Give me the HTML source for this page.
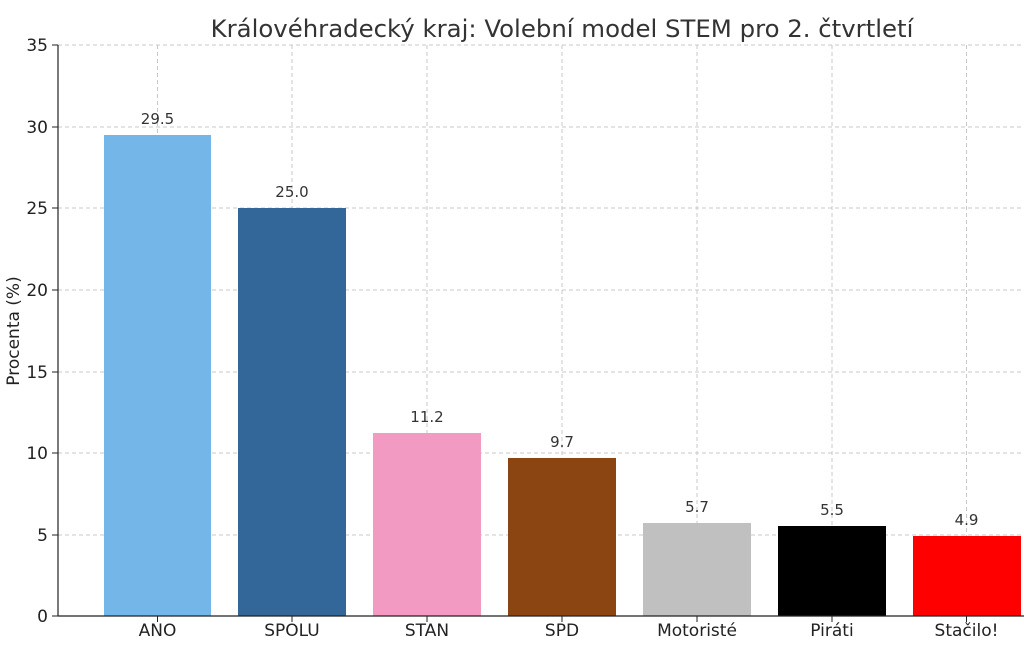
<!DOCTYPE html>
<html><head><meta charset="utf-8"><style>body{margin:0;background:#fff}svg{display:block}</style></head><body>
<svg width="1024" height="656" xmlns="http://www.w3.org/2000/svg" font-family="DejaVu Sans, Liberation Sans, sans-serif">
<rect width="1024" height="656" fill="#fff"/>
<text x="562" y="37" font-size="24.4" text-anchor="middle" fill="#333">Královéhradecký kraj: Volební model STEM pro 2. čtvrtletí</text>
<g stroke="#c8c8c8" stroke-width="1" stroke-dasharray="4,3">
<line x1="58" x2="1024" y1="45" y2="45"/><line x1="58" x2="1024" y1="127" y2="127"/><line x1="58" x2="1024" y1="208" y2="208"/><line x1="58" x2="1024" y1="290" y2="290"/><line x1="58" x2="1024" y1="372" y2="372"/><line x1="58" x2="1024" y1="453" y2="453"/><line x1="58" x2="1024" y1="535" y2="535"/>
<line x1="157.5" x2="157.5" y1="45" y2="616"/><line x1="292" x2="292" y1="45" y2="616"/><line x1="427" x2="427" y1="45" y2="616"/><line x1="562" x2="562" y1="45" y2="616"/><line x1="697" x2="697" y1="45" y2="616"/><line x1="832" x2="832" y1="45" y2="616"/><line x1="966.5" x2="966.5" y1="45" y2="616"/>
</g>
<rect x="104" y="135" width="107" height="481" fill="#74b6e8"/>
<rect x="238" y="208" width="108" height="408" fill="#336699"/>
<rect x="373" y="433" width="108" height="183" fill="#f39ac3"/>
<rect x="508" y="458" width="108" height="158" fill="#8b4513"/>
<rect x="643" y="523" width="108" height="93" fill="#c0c0c0"/>
<rect x="778" y="526" width="108" height="90" fill="#000"/>
<rect x="913" y="536" width="108" height="80" fill="#ff0000"/>
<g font-size="15" fill="#333" text-anchor="middle">
<text x="157.5" y="124">29.5</text><text x="292" y="197">25.0</text><text x="427" y="422">11.2</text><text x="562" y="447">9.7</text><text x="697" y="512">5.7</text><text x="832" y="515">5.5</text><text x="966.5" y="525">4.9</text>
</g>
<g stroke="#222" stroke-width="1.2"><line x1="58" x2="58" y1="45" y2="616"/><line x1="58" x2="1024" y1="616" y2="616"/></g>
<g stroke="#222"><line x1="52" x2="58" y1="45" y2="45"/><line x1="52" x2="58" y1="127" y2="127"/><line x1="52" x2="58" y1="208" y2="208"/><line x1="52" x2="58" y1="290" y2="290"/><line x1="52" x2="58" y1="372" y2="372"/><line x1="52" x2="58" y1="453" y2="453"/><line x1="52" x2="58" y1="535" y2="535"/><line x1="52" x2="58" y1="616" y2="616"/>
<line x1="157.5" x2="157.5" y1="616" y2="622"/><line x1="292" x2="292" y1="616" y2="622"/><line x1="427" x2="427" y1="616" y2="622"/><line x1="562" x2="562" y1="616" y2="622"/><line x1="697" x2="697" y1="616" y2="622"/><line x1="832" x2="832" y1="616" y2="622"/><line x1="966.5" x2="966.5" y1="616" y2="622"/></g>
<g font-size="17" fill="#222" text-anchor="end">
<text x="48" y="51">35</text><text x="48" y="133">30</text><text x="48" y="214">25</text><text x="48" y="296">20</text><text x="48" y="378">15</text><text x="48" y="459">10</text><text x="48" y="541">5</text><text x="48" y="622">0</text>
</g>
<g font-size="17" fill="#222" text-anchor="middle">
<text x="157.5" y="636">ANO</text><text x="292" y="636">SPOLU</text><text x="427" y="636">STAN</text><text x="562" y="636">SPD</text><text x="697" y="636">Motoristé</text><text x="832" y="636">Piráti</text><text x="966.5" y="636">Stačilo!</text>
</g>
<text transform="translate(19,331) rotate(-90)" font-size="17" fill="#222" text-anchor="middle">Procenta (%)</text>
</svg>
</body></html>
